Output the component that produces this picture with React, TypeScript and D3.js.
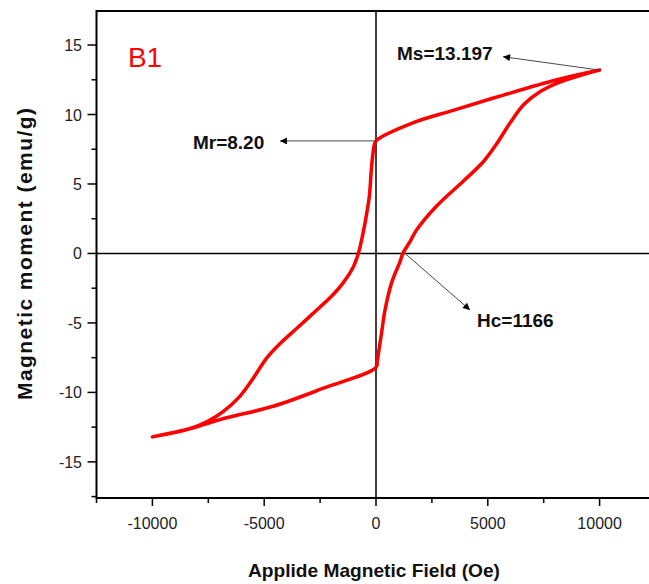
import React from "react";
import * as d3 from "d3";

// Descending branch (from +10000 Oe down to -10000 Oe)
const descH = [10000, 8100, 5700, 3450, 1650, 30, -60, -150, -210, -300, -490, -640, -790, -1010, -1460, -2000, -2500, -3550, -4300, -4900, -5500, -6100, -6850, -7550, -8300, -10000];
const descM = [13.2, 12.5, 11.4, 10.3, 9.4, 8.15, 7.9, 7.0, 6.0, 4.1, 2.2, 1.0, 0.0, -0.95, -2.1, -3.1, -3.85, -5.4, -6.5, -7.55, -9.0, -10.3, -11.4, -12.1, -12.6, -13.2];
// Ascending branch (from -10000 Oe up to +10000 Oe)
const ascH = [-10000, -8300, -6850, -4600, -2350, 0, 60, 250, 400, 700, 1070, 1200, 1520, 1820, 2700, 3900, 4800, 5400, 6000, 6600, 7350, 8250, 10000];
const ascM = [-13.2, -12.6, -11.9, -11.0, -9.7, -8.2, -7.7, -5.7, -4.1, -2.1, -0.6, 0.0, 0.85, 1.7, 3.4, 5.2, 6.6, 7.9, 9.4, 10.7, 11.65, 12.35, 13.2];

const xTicksMajor = [-10000, -5000, 0, 5000, 10000];
const xTicksMinor = [-12500, -7500, -2500, 2500, 7500, 12500];
const yTicksMajor = [-15, -10, -5, 0, 5, 10, 15];
const yTicksMinor = [-17.5, -12.5, -7.5, -2.5, 2.5, 7.5, 12.5];

const xTitle = "Applide Magnetic Field (Oe)";
const yTitle = "Magnetic moment (emu/g)";
const panelLabel = "B1";

// annotations: label, text anchor [H, M], arrow from [H, M], arrow to [H, M]
const annLabels = ["Ms=13.197", "Mr=8.20", "Hc=1166"];
const annText = [[940, 13.93], [-8188, 7.52], [4519, -5.29]];
const annFrom = [[10000, 13.197], [0, 8.1], [1300, 0]];
const annTo = [[5682, 14.16], [-4295, 8.1], [4206, -4.07]];

export default function App() {
  const W = 649, H = 584;
  const x = d3.scaleLinear().domain([-12500, 12500]).range([96.5, 655.5]);
  const y = d3.scaleLinear().domain([-17.6, 17.45]).range([498, 11]);

  const pts: [number, number][] = [
    ...descH.map((h, i) => [h, descM[i]] as [number, number]),
    ...ascH.slice(1).map((h, i) => [h, ascM[i + 1]] as [number, number]),
  ];
  const line = d3
    .line<[number, number]>()
    .x((d) => x(d[0]))
    .y((d) => y(d[1]))
    .curve(d3.curveCatmullRom.alpha(0.5));

  const font = "'Liberation Sans', Arial, sans-serif";
  const x0 = x(-12500), x1 = x(12500), y0 = y(-17.6), y1 = y(17.45);

  return (
    <svg width={W} height={H} style={{ position: "absolute", left: 0, top: 0, background: "#fff" }} fontFamily={font}>
      <defs>
        <marker id="ah" viewBox="0 0 10 10" refX="10" refY="5" markerWidth="11" markerHeight="7" markerUnits="userSpaceOnUse" orient="auto">
          <path d="M0,0 L10,5 L0,10 z" fill="#000" />
        </marker>
      </defs>
      {/* zero lines */}
      <line x1={x0} x2={x1} y1={y(0)} y2={y(0)} stroke="#000" strokeWidth={1.5} />
      <line x1={x(0)} x2={x(0)} y1={y1} y2={y0} stroke="#000" strokeWidth={1.5} />
      {/* frame */}
      <rect x={x0} y={y1} width={x1 - x0} height={y0 - y1} fill="none" stroke="#000" strokeWidth={2} />
      {/* x ticks */}
      {xTicksMajor.map((t) => (
        <g key={"xm" + t}>
          <line x1={x(t)} x2={x(t)} y1={y0} y2={y0 + 8} stroke="#000" strokeWidth={1.5} />
          <text x={x(t)} y={529} textAnchor="middle" fontSize={16} fill="#222">{t}</text>
        </g>
      ))}
      {xTicksMinor.map((t) => (
        <line key={"xn" + t} x1={x(t)} x2={x(t)} y1={y0} y2={y0 + 5} stroke="#000" strokeWidth={1.5} />
      ))}
      {/* y ticks */}
      {yTicksMajor.map((t) => (
        <g key={"ym" + t}>
          <line x1={x0 - 9} x2={x0} y1={y(t)} y2={y(t)} stroke="#000" strokeWidth={1.5} />
          <text x={82} y={y(t) + 6} textAnchor="end" fontSize={16} fill="#222">{t}</text>
        </g>
      ))}
      {yTicksMinor.map((t) => (
        <line key={"yn" + t} x1={x0 - 5} x2={x0} y1={y(t)} y2={y(t)} stroke="#000" strokeWidth={1.5} />
      ))}
      {/* curve */}
      <path d={line(pts) || ""} fill="none" stroke="#ff0000" strokeWidth={3.5} strokeLinejoin="round" strokeLinecap="round" />
      {/* annotations */}
      {annLabels.map((s, i) => (
        <g key={s}>
          <line x1={x(annFrom[i][0])} y1={y(annFrom[i][1])} x2={x(annTo[i][0])} y2={y(annTo[i][1])} stroke="#333" strokeWidth={0.9} markerEnd="url(#ah)" />
          <text x={x(annText[i][0])} y={y(annText[i][1])} fontSize={19} fontWeight="bold" fill="#111">{s}</text>
        </g>
      ))}
      <text x={x(-11096)} y={y(13.42)} fontSize={28} fill="#ff0000">{panelLabel}</text>
      {/* titles */}
      <text x={374} y={577} textAnchor="middle" fontSize={19} fontWeight="bold" fill="#111" textLength={252} lengthAdjust="spacingAndGlyphs">{xTitle}</text>
      <text transform="translate(31.5,254) rotate(-90)" textAnchor="middle" fontSize={21} fontWeight="bold" fill="#111" textLength={292} lengthAdjust="spacing">{yTitle}</text>
    </svg>
  );
}
